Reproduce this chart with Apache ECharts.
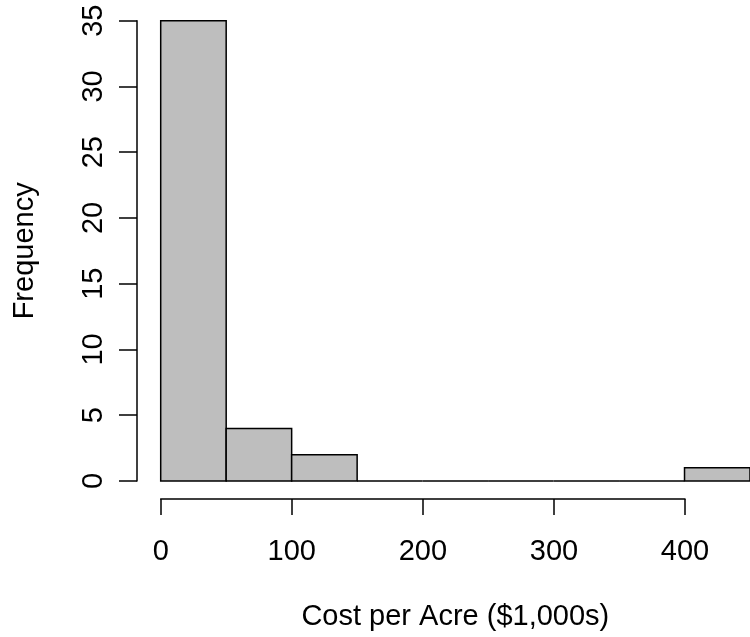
<!DOCTYPE html>
<html>
<head>
<meta charset="utf-8">
<script src="https://cdn.jsdelivr.net/npm/echarts@6/dist/echarts.min.js"></script>
<style>
html,body{margin:0;padding:0;background:#fff;}
#chart{width:750px;height:637px;}
</style>
</head>
<body>
<div id="chart"></div>
<script>
// Histogram data
const binEdges = [0, 50, 100, 150, 200, 250, 300, 350, 400, 450];
const counts = [35, 4, 2, 0, 0, 0, 0, 0, 1];
const xTickMax = 400;
const yMax = 35;
const xTitle = 'Cost per Acre ($1,000s)';
const yTitle = 'Frequency';

const FONT = '"Liberation Sans", Arial, Helvetica, sans-serif';
const FS = 29;
const LW = 1.5;
const pxPerUnit = 1.3108;
const gridLeft = 160.7, gridTop = 20.7, gridBottom = 156;

const barData = counts.map((c, i) => [binEdges[i], binEdges[i + 1], c]);

const chart = echarts.init(document.getElementById('chart'), null, {renderer: 'canvas'});
chart.setOption({
  animation: false,
  backgroundColor: '#ffffff',
  grid: [
    {left: gridLeft, right: 0, top: gridTop, bottom: gridBottom, containLabel: false},
    {left: gridLeft, width: xTickMax * pxPerUnit, top: gridTop, bottom: gridBottom, containLabel: false}
  ],
  xAxis: [
    {
      type: 'value', gridIndex: 0, min: binEdges[0], max: binEdges[binEdges.length - 1],
      name: xTitle, nameLocation: 'middle', nameGap: 121,
      nameTextStyle: {fontFamily: FONT, fontSize: FS, color: '#000'},
      axisLine: {show: false}, axisTick: {show: false}, axisLabel: {show: false}, splitLine: {show: false}
    },
    {
      type: 'value', gridIndex: 1, min: 0, max: xTickMax, interval: 100, offset: 18,
      axisLine: {show: true, onZero: false, lineStyle: {color: '#000', width: LW}},
      axisTick: {show: true, inside: false, length: 16, lineStyle: {color: '#000', width: LW}},
      axisLabel: {show: true, margin: 38, fontFamily: FONT, fontSize: FS, color: '#000'},
      splitLine: {show: false}
    }
  ],
  yAxis: [
    {
      type: 'value', gridIndex: 0, min: 0, max: yMax, interval: 5, offset: 23.7,
      name: yTitle, nameLocation: 'middle', nameGap: 98,
      nameTextStyle: {fontFamily: FONT, fontSize: FS, color: '#000'},
      axisLine: {show: true, onZero: false, lineStyle: {color: '#000', width: LW}},
      axisTick: {show: true, inside: false, length: 18, lineStyle: {color: '#000', width: LW}},
      axisLabel: {show: true, rotate: 90, margin: 28.5, fontFamily: FONT, fontSize: FS, color: '#000'},
      splitLine: {show: false}
    },
    {
      type: 'value', gridIndex: 1, min: 0, max: yMax, show: false
    }
  ],
  series: [{
    type: 'custom',
    xAxisIndex: 0, yAxisIndex: 0,
    clip: false,
    data: barData,
    encode: {x: [0, 1], y: 2},
    renderItem: function (params, api) {
      const p0 = api.coord([api.value(0), 0]);
      const p1 = api.coord([api.value(1), api.value(2)]);
      return {
        type: 'rect',
        shape: {x: p0[0], y: p1[1], width: p1[0] - p0[0], height: p0[1] - p1[1]},
        style: {fill: '#bebebe', stroke: '#000', lineWidth: LW}
      };
    }
  }]
});
</script>
</body>
</html>
